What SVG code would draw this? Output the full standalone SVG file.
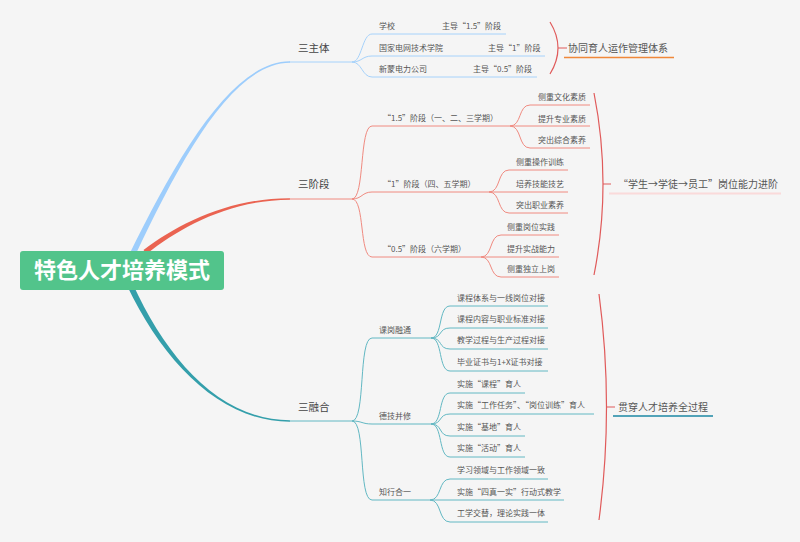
<svg xmlns="http://www.w3.org/2000/svg" width="800" height="542" viewBox="0 0 800 542">
<style>
.t{font-family:"Noto Sans CJK SC","Noto Sans",sans-serif;fill:#555}
.l1{font-size:10.5px;fill:#444}
.lf{font-size:8px}
.bl{font-size:10px}
.cb{fill:none;stroke:#a6d2fb;stroke-width:1}
.cr{fill:none;stroke:#f08a80;stroke-width:1}
.ct{fill:none;stroke:#62b8c3;stroke-width:1}
.br{fill:none;stroke:#e05a5a;stroke-width:1.2}
</style>
<rect width="800" height="542" fill="#f5f5f5"/>
<g id="connectors">
<path d="M127.7,271.3 C177,166 230,63 290,62.7 L290,61.3 C230,61 173,164 122.3,268.7 Z" fill="#9dcdfc"/>
<path d="M146.5,254 C181.2,226.6 230,200 290,199.7 L290,198.3 C230,198 178.8,223.4 143.5,250 Z" fill="#ea6351"/>
<path d="M132.7,283.7 C167,359 220,420 290,420.3 L290,421.7 C220,422 163,361 127.3,286.3 Z" fill="#349fab"/>
<path class="cb" d="M289,62 H352"/>
<path class="cr" d="M289,199 H352"/>
<path class="ct" d="M289,421 H352"/>
<path class="cb" d="M352,62 C362,62 362,34 372,34 H506"/>
<path class="cb" d="M352,62 C362,62 362,56 372,56 H545"/>
<path class="cb" d="M352,62 C362,62 362,77 372,77 H537"/>
<path class="cr" d="M352,199 C365,199 359,126 372,126 H510"/>
<path class="cr" d="M352,199 C362,199 362,192 372,192 H489"/>
<path class="cr" d="M352,199 C365,199 359,257 372,257 H481"/>
<path class="cr" d="M510,126 C522,126 518,105 530,105 H590"/>
<path class="cr" d="M510,126 H590"/>
<path class="cr" d="M510,126 C522,126 518,148 530,148 H590"/>
<path class="cr" d="M489,192 C501,192 497,170 509,170 H568"/>
<path class="cr" d="M489,192 H568"/>
<path class="cr" d="M489,192 C501,192 497,213 509,213 H568"/>
<path class="cr" d="M481,257 C493,257 489,235 501,235 H559"/>
<path class="cr" d="M481,257 H559"/>
<path class="cr" d="M481,257 C493,257 489,277 501,277 H559"/>
<path class="ct" d="M352,421 C366,421 358,338 372,338 H431"/>
<path class="ct" d="M352,421 C362,421 362,424 372,424 H431"/>
<path class="ct" d="M352,421 C366,421 358,500 372,500 H430"/>
<path class="ct" d="M431,338 C443,338 438,306 450,306 H548"/>
<path class="ct" d="M431,338 C443,338 438,328 450,328 H548"/>
<path class="ct" d="M431,338 C443,338 438,349 450,349 H548"/>
<path class="ct" d="M431,338 C443,338 438,371 450,371 H548"/>
<path class="ct" d="M431,424 C443,424 438,393 450,393 H525"/>
<path class="ct" d="M431,424 C443,424 438,414 450,414 H594"/>
<path class="ct" d="M431,424 C443,424 438,436 450,436 H525"/>
<path class="ct" d="M431,424 C443,424 438,457 450,457 H525"/>
<path class="ct" d="M430,500 C442,500 438,479 450,479 H548"/>
<path class="ct" d="M430,500 H564"/>
<path class="ct" d="M430,500 C442,500 438,522 450,522 H548"/>
<path class="br" d="M550,22 Q566,48 550,74 M558,48 H567"/>
<path class="br" d="M594,93 Q612,184 594,275 M603,184 H611"/>
<path class="br" d="M599,294 Q614,407 599,520 M606.5,407 H615"/>
</g>
<g id="root">
<rect x="20" y="251" width="204" height="39" rx="3" fill="#52c48b"/>
<text x="122" y="277.5" text-anchor="middle" font-family="'Noto Sans CJK SC','Noto Sans',sans-serif" font-size="22" font-weight="bold" fill="#fff">特色人才培养模式</text>
</g>
<g id="n-sanzhuti">
<text class="t l1" x="298" y="52">三主体</text>
<text class="t lf" x="379" y="29">学校</text>
<text class="t lf" x="442" y="29">主导“1.5”阶段</text>
<text class="t lf" x="379" y="50.5">国家电网技术学院</text>
<text class="t lf" x="488" y="50.5">主导“1”阶段</text>
<text class="t lf" x="379" y="72">新蒙电力公司</text>
<text class="t lf" x="473" y="72">主导“0.5”阶段</text>
</g>
<g id="s-xietong">
<text class="t bl" x="568" y="52">协同育人运作管理体系</text>
<path d="M564,57.5 H674" stroke="#f0883a" stroke-width="1.5"/>
</g>
<g id="n-sanjieduan">
<text class="t l1" x="298" y="188">三阶段</text>
<text class="t lf" x="383" y="121">“1.5”阶段（一、二、三学期）</text>
<text class="t lf" x="383" y="186.5">“1”阶段（四、五学期）</text>
<text class="t lf" x="383" y="251.5">“0.5”阶段（六学期）</text>
<text class="t lf" x="538" y="100">侧重文化素质</text>
<text class="t lf" x="538" y="121.5">提升专业素质</text>
<text class="t lf" x="538" y="142.5">突出综合素养</text>
<text class="t lf" x="516" y="165">侧重操作训练</text>
<text class="t lf" x="516" y="187">培养技能技艺</text>
<text class="t lf" x="516" y="208">突出职业素养</text>
<text class="t lf" x="507" y="230">侧重岗位实践</text>
<text class="t lf" x="507" y="251.5">提升实战能力</text>
<text class="t lf" x="507" y="272">侧重独立上岗</text>
</g>
<g id="s-jinjie">
<text class="t bl" x="618" y="188">“学生→学徒→员工”岗位能力进阶</text>
<path d="M609,193.5 H781" stroke="#fadada" stroke-width="2"/>
</g>
<g id="n-sanronghe">
<text class="t l1" x="298" y="411">三融合</text>
<text class="t lf" x="379" y="333">课岗融通</text>
<text class="t lf" x="379" y="419">德技并修</text>
<text class="t lf" x="379" y="495">知行合一</text>
<text class="t lf" x="457" y="301">课程体系与一线岗位对接</text>
<text class="t lf" x="457" y="322">课程内容与职业标准对接</text>
<text class="t lf" x="457" y="343">教学过程与生产过程对接</text>
<text class="t lf" x="457" y="364.5">毕业证书与1+X证书对接</text>
<text class="t lf" x="457" y="386.5">实施“课程”育人</text>
<text class="t lf" x="457" y="408">实施“工作任务”、“岗位训练”育人</text>
<text class="t lf" x="457" y="430">实施“基地”育人</text>
<text class="t lf" x="457" y="451">实施“活动”育人</text>
<text class="t lf" x="457" y="472.5">学习领域与工作领域一致</text>
<text class="t lf" x="457" y="495">实施“四真一实”行动式教学</text>
<text class="t lf" x="457" y="516">工学交替，理论实践一体</text>
</g>
<g id="s-guanchuan">
<text class="t bl" x="618" y="411">贯穿人才培养全过程</text>
<path d="M613,416 H713" stroke="#1b87a3" stroke-width="1.5"/>
</g>
</svg>
